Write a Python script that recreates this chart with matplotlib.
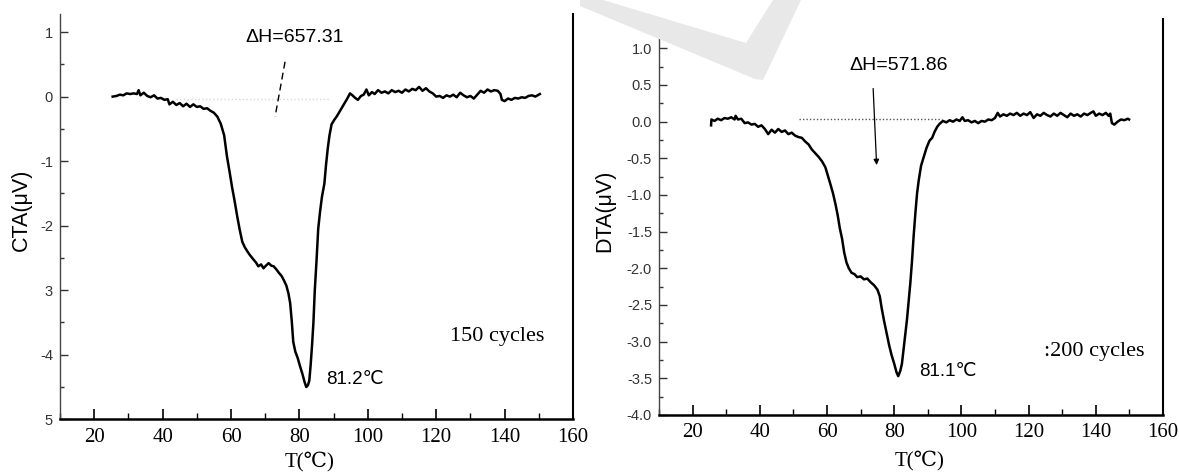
import matplotlib
matplotlib.use("Agg")
import matplotlib.pyplot as plt
from matplotlib.patches import Polygon
from matplotlib.ticker import MultipleLocator

plt.rcParams['axes.unicode_minus'] = False

SANS = ['Liberation Sans', 'DejaVu Sans']
SERIF = ['Liberation Serif', 'DejaVu Serif', 'DejaVu Sans']

# 150 cycles DTA trace
t150 = [25.4, 26.5, 27.5, 28.5, 29.5, 30.5, 31.5, 32.5, 33.0, 33.5, 34.5, 35.5, 36.5, 37.5,
        38.5, 39.5, 40.5, 41.5, 42.0, 43.0, 44.0, 45.0, 46.0, 47.0, 48.0, 49.0, 50.0, 51.0,
        52.0, 53.0, 54.0, 55.0, 56.0, 57.0, 58.0, 58.8, 59.6, 60.3, 61.0, 61.8, 62.5, 63.3,
        64.0, 64.8, 65.6, 66.5, 67.3, 68.0, 68.8, 69.5, 70.2, 71.0, 71.8, 72.5, 73.3, 74.0,
        74.8, 75.5, 76.2, 76.8, 77.3, 77.8, 78.2, 78.8, 79.5, 80.2, 80.9, 81.5, 82.0, 82.5,
        82.9, 83.3, 83.7, 84.1, 84.5, 85.0, 85.5, 86.0, 86.6, 87.3, 87.8, 88.3, 88.8, 89.4,
        90.2, 91.0, 92.0, 93.0, 94.0, 94.8, 95.5, 96.3, 97.1, 98.0, 98.8, 99.6, 100.3, 101.2,
        102.0, 103.0, 104.0, 105.0, 106.0, 107.0, 108.0, 109.0, 110.0, 111.0, 112.0, 113.0,
        114.0, 115.0, 116.0, 117.0, 118.0, 119.0, 120.0, 121.0, 122.0, 123.0, 124.0, 125.0,
        126.0, 127.0, 128.0, 129.0, 130.0, 131.0, 132.0, 133.0, 134.0, 135.0, 136.0, 137.0,
        138.0, 138.8, 139.2, 140.0, 141.0, 142.0, 143.0, 144.0, 145.0, 146.0, 147.0, 148.0,
        149.0, 150.3]
dta150 = [0.00, 0.01, 0.03, 0.02, 0.05, 0.04, 0.05, 0.04, 0.10, 0.02, 0.06, 0.01, -0.01, 0.02,
          -0.03, -0.02, -0.05, -0.04, -0.12, -0.08, -0.13, -0.10, -0.15, -0.11, -0.16, -0.12, -0.16, -0.15,
          -0.19, -0.18, -0.22, -0.25, -0.31, -0.42, -0.60, -0.92, -1.17, -1.40, -1.60, -1.85, -2.05, -2.25,
          -2.33, -2.40, -2.46, -2.52, -2.57, -2.63, -2.60, -2.66, -2.62, -2.58, -2.62, -2.63, -2.68, -2.73,
          -2.78, -2.85, -2.93, -3.05, -3.20, -3.50, -3.80, -3.95, -4.05, -4.18, -4.30, -4.42, -4.50, -4.47,
          -4.40, -4.15, -3.85, -3.50, -3.00, -2.55, -2.05, -1.80, -1.55, -1.35, -1.05, -0.80, -0.60, -0.43,
          -0.36, -0.30, -0.21, -0.12, -0.03, 0.05, 0.02, -0.02, -0.05, 0.01, 0.03, 0.11, 0.02, 0.07,
          0.04, 0.10, 0.06, 0.08, 0.05, 0.10, 0.07, 0.09, 0.06, 0.11, 0.08, 0.12,
          0.10, 0.15, 0.09, 0.13, 0.08, 0.05, 0.00, 0.01, -0.02, 0.02, 0.00, 0.03,
          -0.01, 0.06, 0.02, -0.01, 0.01, -0.03, 0.03, 0.09, 0.06, 0.11, 0.08, 0.10,
          0.09, 0.04, -0.05, -0.07, -0.03, -0.05, -0.02, -0.03, -0.01, -0.02, 0.01, 0.02,
          0.00, 0.04]

# 200 cycles DTA trace
t200 = [25.5, 25.6, 26.5, 27.5, 28.5, 29.5, 30.5, 31.5, 32.5, 32.8, 33.5, 34.5, 35.5, 36.5,
        37.5, 38.5, 39.5, 40.5, 41.5, 42.5, 43.5, 44.5, 45.5, 46.5, 47.5, 48.5, 49.5, 50.5,
        51.5, 52.5, 53.5, 54.5, 55.5, 56.5, 57.5, 58.5, 59.5, 60.3, 61.0, 61.8, 62.5, 63.2,
        63.8, 64.5, 65.1, 65.8, 66.5, 67.3, 68.2, 69.0, 70.0, 71.0, 72.0, 73.0, 74.0, 75.0,
        75.7, 76.3, 77.0, 77.8, 78.5, 79.2, 80.0, 80.7, 81.2, 81.8, 82.3, 82.8, 83.3, 83.8,
        84.3, 84.8, 85.3, 85.8, 86.3, 86.8, 87.3, 88.0, 88.8, 89.6, 90.5, 91.3, 92.0, 92.8,
        93.5, 94.5, 95.5, 96.5, 97.5, 98.5, 99.5, 100.3, 101.0, 102.0, 103.0, 104.0, 105.0,
        106.0, 107.0, 108.0, 109.0, 110.0, 110.8, 111.5, 112.5, 113.5, 114.5, 115.5, 116.5,
        117.5, 118.5, 119.5, 120.5, 121.5, 122.5, 123.5, 124.5, 125.5, 126.5, 127.5, 128.5,
        129.5, 130.5, 131.5, 132.5, 133.5, 134.5, 135.5, 136.5, 137.5, 138.5, 139.3, 140.0,
        141.0, 142.0, 143.0, 143.8, 144.3, 144.8, 145.5, 146.5, 147.5, 148.5, 149.5, 149.9]
dta200 = [-0.05, 0.03, 0.01, 0.04, 0.02, 0.05, 0.04, 0.06, 0.03, 0.08, 0.03, 0.04, -0.02, -0.01,
          -0.04, -0.03, -0.07, -0.05, -0.10, -0.17, -0.11, -0.15, -0.10, -0.14, -0.12, -0.17, -0.15, -0.19,
          -0.21, -0.22, -0.27, -0.31, -0.38, -0.43, -0.48, -0.54, -0.62, -0.74, -0.85, -0.98, -1.12, -1.28,
          -1.45, -1.60, -1.78, -1.92, -2.00, -2.06, -2.08, -2.12, -2.11, -2.15, -2.14, -2.19, -2.23, -2.29,
          -2.38, -2.55, -2.72, -2.90, -3.05, -3.18, -3.30, -3.42, -3.47, -3.40, -3.30, -3.10, -2.90, -2.70,
          -2.45, -2.20, -1.90, -1.55, -1.25, -0.98, -0.80, -0.60, -0.48, -0.36, -0.26, -0.22, -0.14, -0.07,
          -0.03, 0.01, -0.01, 0.02, 0.00, 0.03, 0.01, 0.06, 0.01, 0.02, -0.01, 0.01, -0.02,
          0.01, 0.00, 0.03, 0.02, 0.05, 0.12, 0.07, 0.10, 0.08, 0.11, 0.09, 0.12,
          0.08, 0.11, 0.09, 0.13, 0.05, 0.10, 0.08, 0.12, 0.09, 0.07, 0.11, 0.08,
          0.12, 0.09, 0.06, 0.11, 0.08, 0.10, 0.07, 0.11, 0.09, 0.12, 0.14, 0.08,
          0.11, 0.09, 0.12, 0.08, 0.11, -0.02, -0.04, 0.00, 0.03, 0.02, 0.04, 0.03]

yticks150 = [1, 0, -1, -2, -3, -4, -5]
yticklabels150 = ['1', '0', '-1', '-2', '3', '-4', '5']
yticks200 = [1.0, 0.5, 0.0, -0.5, -1.0, -1.5, -2.0, -2.5, -3.0, -3.5, -4.0]
xticks = [20, 40, 60, 80, 100, 120, 140, 160]

W, H = 1179, 472
fig = plt.figure(figsize=(W / 100, H / 100), dpi=100)

# grey watermark band behind the right panel
band = [(580, 0), (603, 0), (746, 43), (773, 0), (801, 0), (763, 80), (755, 79), (580, 6)]
fig.patches.append(Polygon([(x / W, 1 - y / H) for x, y in band], closed=True,
                           transform=fig.transFigure, facecolor='#e8e8e8',
                           edgecolor='none', zorder=0))


def px_rect(left, right, top, bottom):
    return [left / W, 1 - bottom / H, (right - left) / W, (bottom - top) / H]


def style(ax):
    ax.set_facecolor('none')
    ax.spines['top'].set_visible(False)
    ax.spines['bottom'].set_linewidth(1.8)
    ax.spines['right'].set_linewidth(1.5)
    ax.spines['left'].set_linewidth(1.0)
    ax.spines['left'].set_color('#444444')
    ax.set_xlim(10, 160)
    ax.set_xticks(xticks)
    ax.xaxis.set_minor_locator(MultipleLocator(10))
    ax.tick_params(axis='x', which='major', direction='in', length=7, width=1.2, pad=6)
    ax.tick_params(axis='x', which='minor', direction='in', length=4, width=1.0)
    ax.tick_params(axis='y', which='major', direction='in', length=6, width=1.0, pad=5,
                   color='#333333')
    ax.tick_params(axis='y', which='minor', direction='in', length=3, width=1.0,
                   color='#333333')
    for lab in ax.get_xticklabels():
        lab.set_family(SERIF)
        lab.set_fontsize(15)
    for lab in ax.get_yticklabels():
        lab.set_family(SANS)
        lab.set_fontsize(10.5)
        lab.set_color('#333333')


# ---- left panel: 150 cycles ----
ax1 = fig.add_axes(px_rect(60, 573, 14, 419.3))
ax1.plot(t150, dta150, color='black', lw=1.8)
ax1.plot([44, 88.7], [-0.03, -0.03], color='#d8d8d8', lw=1.0, ls=':')
ax1.set_ylim(-5, 1.28)
ax1.set_yticks(yticks150)
ax1.set_yticklabels(yticklabels150)
ax1.yaxis.set_minor_locator(MultipleLocator(0.5))
style(ax1)
ax1.text(-0.076, 0.516, 'CTA(μV)', transform=ax1.transAxes, rotation=90,
         ha='center', va='center', fontsize=15.5, family=SANS)
ax1.text(0.487, -0.105, 'T(℃)', transform=ax1.transAxes, ha='center', va='center',
         fontsize=15, family=SERIF)
ax1.text(78.5, 0.92, 'ΔH=657.31', ha='center', va='center', fontsize=14, family=SANS)
ax1.plot([75.8, 72.9], [0.54, -0.31], color='black', lw=1.0, ls=(0, (5, 3)))
ax1.text(87.9, -4.38, '81.2℃', ha='left', va='center', fontsize=13.5, family=SANS)
ax1.text(124, -3.72, '150 cycles', ha='left', va='center', fontsize=16, family=SERIF)

# ---- right panel: 200 cycles ----
ax2 = fig.add_axes(px_rect(659, 1163, 19, 415))
ax2.plot(t200, dta200, color='black', lw=1.8)
ax2.plot([51.7, 94.1], [0.03, 0.03], color='#555555', lw=1.0, ls=(0, (1, 1.5)))
ax2.set_ylim(-4.0, 1.4)
ax2.set_yticks(yticks200)
ax2.set_yticklabels([f'{v:.1f}' for v in yticks200])
ax2.yaxis.set_minor_locator(MultipleLocator(0.25))
style(ax2)
ax2.text(-0.107, 0.515, 'DTA(μV)', transform=ax2.transAxes, rotation=90,
         ha='center', va='center', fontsize=15.5, family=SANS)
ax2.text(0.516, -0.114, 'T(℃)', transform=ax2.transAxes, ha='center', va='center',
         fontsize=15, family=SERIF)
ax2.text(81.2, 0.76, 'ΔH=571.86', ha='center', va='center', fontsize=14, family=SANS)
ax2.annotate('', xy=(74.8, -0.63), xytext=(73.7, 0.49),
             arrowprops=dict(arrowstyle='-|>', color='black', lw=0.9,
                             mutation_scale=8))
ax2.text(87.4, -3.41, '81.1℃', ha='left', va='center', fontsize=13.5, family=SANS)
ax2.text(124.5, -3.14, ':200 cycles', ha='left', va='center', fontsize=16, family=SERIF)

fig.savefig('out.png', dpi=100)
